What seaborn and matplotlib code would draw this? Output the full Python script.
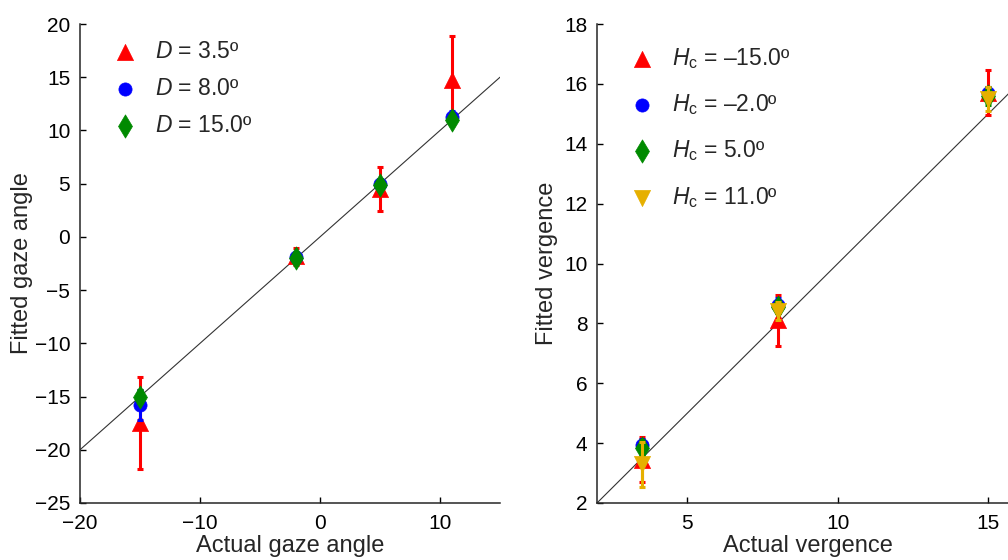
import numpy as np
import pandas as pd
import matplotlib
matplotlib.use("Agg")
import matplotlib.pyplot as plt
import seaborn as sns

# ---------------- data ----------------
gaze_actual = [-15, -2, 5, 11]
gaze_labels = [r"$D$ = 3.5º", r"$D$ = 8.0º", r"$D$ = 15.0º"]
gaze_fit = [
    [-17.5, -1.8, 4.5, 14.7],
    [-15.8, -1.9, 5.0, 11.3],
    [-15.0, -2.0, 4.9, 11.0],
]
gaze_err = [
    [4.3, 0.8, 2.1, 4.2],
    [1.4, 0.3, 0.4, 0.5],
    [0.6, 0.3, 0.3, 0.3],
]

verg_actual = [3.5, 8.0, 15.0]
verg_labels = [r"$H_\mathrm{c}$ = –15.0º", r"$H_\mathrm{c}$ = –2.0º",
               r"$H_\mathrm{c}$ = 5.0º", r"$H_\mathrm{c}$ = 11.0º"]
verg_fit = [
    [3.45, 8.1, 15.7],
    [3.95, 8.6, 15.7],
    [3.85, 8.55, 15.6],
    [3.3, 8.4, 15.5],
]
verg_err = [
    [0.75, 0.85, 0.75],
    [0.2, 0.25, 0.2],
    [0.25, 0.2, 0.3],
    [0.75, 0.3, 0.4],
]

colors = ["#ff0000", "#0000ff", "#008a00", "#e6b000"]
markers = ["^", "o", "d", "v"]
sizes = [135, 90, 140, 135]

# ---------------- style ----------------
sns.set_theme(style="ticks")
plt.rcParams["font.family"] = ["Liberation Sans", "DejaVu Sans"]
plt.rcParams["mathtext.fontset"] = "custom"
plt.rcParams["mathtext.rm"] = "Liberation Sans"
plt.rcParams["mathtext.it"] = "Liberation Sans:italic"
plt.rcParams["axes.linewidth"] = 1.1
plt.rcParams["axes.edgecolor"] = "#262626"

fig = plt.figure(figsize=(10.08, 5.6), dpi=100)
ax1 = fig.add_axes([80 / 1008, 57 / 560, 420 / 1008, 479 / 560])
ax2 = fig.add_axes([597 / 1008, 57 / 560, 421.4 / 1008, 479 / 560])


def draw(ax, xs, fits, errs, labels):
    for i, (fit, err, lab) in enumerate(zip(fits, errs, labels)):
        ax.errorbar(xs, fit, yerr=err, fmt="none", ecolor=colors[i],
                    elinewidth=2.2, capsize=2.5, capthick=2.2, zorder=3 + 2 * i)
        df = pd.DataFrame({"x": xs, "y": fit})
        sns.scatterplot(data=df, x="x", y="y", marker=markers[i], color=colors[i],
                        s=sizes[i], edgecolor=colors[i], linewidth=0.5,
                        ax=ax, label=lab, zorder=4 + 2 * i)


# left panel
line1 = np.array([-20, 15])
ax1.plot(line1, line1, color="#333333", lw=0.8, zorder=2)
draw(ax1, gaze_actual, gaze_fit, gaze_err, gaze_labels)
ax1.set_xlim(-20, 15)
ax1.set_ylim(-25, 20)
ax1.set_xticks([-20, -10, 0, 10])
ax1.set_yticks(np.arange(-25, 21, 5))
ax1.set_xlabel("Actual gaze angle", fontsize=17, labelpad=1.5)
ax1.set_ylabel("Fitted gaze angle", fontsize=17, labelpad=1)
ax1.legend(loc="upper left", frameon=False, fontsize=16.5, handlelength=1.6,
           handletextpad=0.5, labelspacing=0.62, borderaxespad=0.3,
           bbox_to_anchor=(0.025, 1.0), markerscale=1.0)

# right panel
line2 = np.array([2, 16])
ax2.plot(line2, line2, color="#333333", lw=0.8, zorder=2)
draw(ax2, verg_actual, verg_fit, verg_err, verg_labels)
ax2.set_xlim(2, 16)
ax2.set_ylim(2, 18)
ax2.set_xticks([5, 10, 15])
ax2.set_yticks(np.arange(2, 19, 2))
ax2.set_xlabel("Actual vergence", fontsize=17, labelpad=1.5)
ax2.set_ylabel("Fitted vergence", fontsize=17, labelpad=4)
ax2.legend(loc="upper left", frameon=False, fontsize=16.5, handlelength=1.6,
           handletextpad=0.5, labelspacing=0.93, borderaxespad=0.3,
           bbox_to_anchor=(0.025, 0.9875), markerscale=1.0)

for ax in (ax1, ax2):
    sns.despine(ax=ax)
    ax.tick_params(direction="in", length=4, width=1, labelsize=15,
                   colors="black")
    ax.tick_params(axis="y", pad=7)
    ax.tick_params(axis="x", pad=8)

fig.savefig("out.png", dpi=100)
